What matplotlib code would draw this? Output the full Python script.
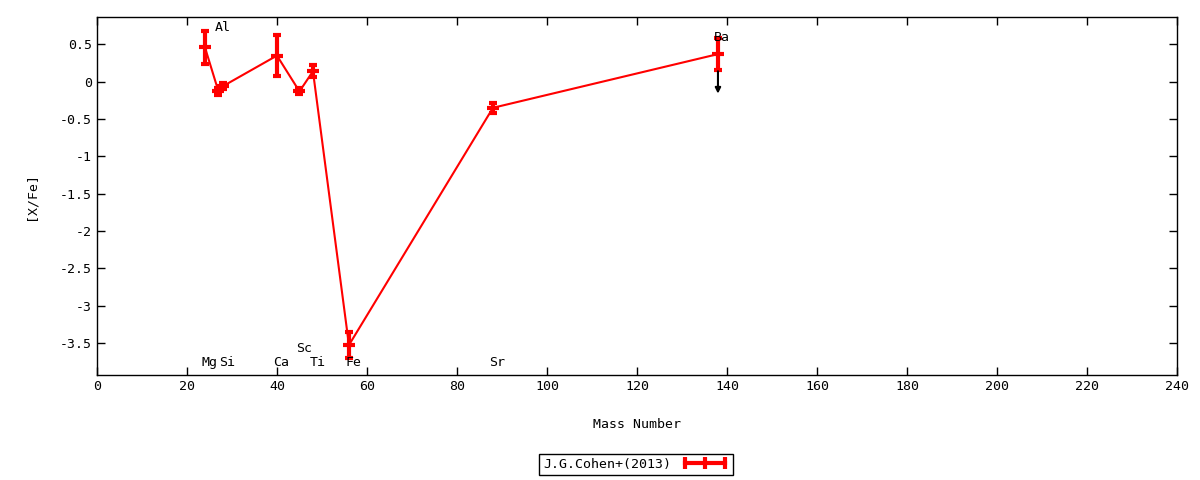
import matplotlib
matplotlib.use('Agg')
import matplotlib.pyplot as plt
from matplotlib.lines import Line2D
from matplotlib.ticker import FuncFormatter, MultipleLocator

plt.rcParams['font.family'] = ['DejaVu Sans Mono']
plt.rcParams['font.size'] = 9.5

# Cohen+(2013) abundances vs mass number
mass = [24, 27, 28, 40, 45, 48, 56, 88, 138]
xfe = [0.46, -0.13, -0.06, 0.35, -0.13, 0.14, -3.53, -0.35, 0.37]
err = [0.22, 0.05, 0.04, 0.27, 0.04, 0.08, 0.18, 0.07, 0.21]

# element labels
lab_names = ['Mg', 'Al', 'Si', 'Ca', 'Sc', 'Ti', 'Fe', 'Sr', 'Ba']
lab_x = [24, 27, 28, 40, 45, 48, 56, 88, 138]
lab_y = [-3.77, 0.72, -3.77, -3.77, -3.58, -3.77, -3.77, -3.77, 0.59]

# upper-limit arrow for Ba
lim_x = 138
lim_y0 = 0.14
lim_y1 = -0.16

fig = plt.figure(figsize=(12, 4.8), dpi=100)
ax = fig.add_axes([0.0808, 0.219, 0.9, 0.746])

ax.errorbar(mass, xfe, yerr=err, color='red', lw=1.5, elinewidth=3,
            capsize=3, capthick=3, marker='_', ms=8, mew=3)

ax.annotate('', xy=(lim_x, lim_y1), xytext=(lim_x, lim_y0),
            arrowprops=dict(arrowstyle='-|>', color='black', lw=1.5,
                            mutation_scale=8, shrinkA=0, shrinkB=0))

for name, x, y in zip(lab_names, lab_x, lab_y):
    ax.text(x - 0.8, y, name, ha='left', va='center')

ax.set_xlim(0, 240)
ax.set_ylim(-3.93, 0.87)
ax.xaxis.set_major_locator(MultipleLocator(20))
ax.yaxis.set_major_locator(MultipleLocator(0.5))
ax.yaxis.set_major_formatter(FuncFormatter(lambda v, p: '%g' % round(v, 2)))
ax.tick_params(direction='in', top=True, right=True, length=6, width=1)
for s in ax.spines.values():
    s.set_linewidth(1)

ax.set_xlabel('Mass Number', labelpad=18)
ax.set_ylabel('[X/Fe]', labelpad=16)

key = Line2D([], [], color='red', lw=3, marker='|', ms=8, mew=3)
fig.legend(handles=[key], labels=['J.G.Cohen+(2013)'], loc='center',
           bbox_to_anchor=(0.53, 0.033), numpoints=3,
           frameon=True, fancybox=False, edgecolor='black', framealpha=1,
           markerfirst=False, handlelength=3.6, borderpad=0.3,
           borderaxespad=0, handletextpad=0.8)

fig.savefig('out.png', dpi=100)
